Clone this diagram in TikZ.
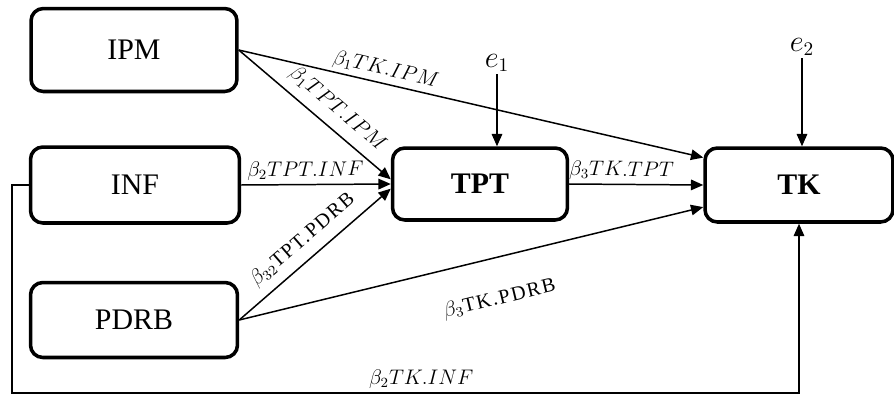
\documentclass[tikz,border=0pt]{standalone}
\usepackage{tikz}
\usetikzlibrary{arrows.meta, positioning}
\usepackage{amsmath}
\usepackage{fontspec}
\setmainfont{Liberation Serif}

\begin{document}
\begin{tikzpicture}[x=0.02cm, y=-0.02cm,
				->,
				>={Triangle[length=7pt, width=6pt]},
				line width=0.85pt,
				var/.style={draw, -, line width=2pt, rounded corners=7pt,
					font=\fontsize{17}{20}\selectfont},
				lbl/.style={font=\fontsize{11.5}{13}\selectfont, sloped, inner sep=2pt},
				err/.style={font=\fontsize{16}{18}\selectfont, inner sep=1pt}]

				\useasboundingbox (0,0) rectangle (894,396);

				% variables
				\node[var, minimum width=4.12cm, minimum height=1.66cm] (ipm) at (134,50) {IPM};
				\node[var, minimum width=4.18cm, minimum height=1.52cm] (inf) at (135,185) {INF};
				\node[var, minimum width=4.14cm, minimum height=1.50cm] (pdrb) at (134,320) {PDRB};
				\node[var, minimum width=3.50cm, minimum height=1.44cm, font=\fontsize{17}{20}\selectfont\bfseries] (tpt) at (480,184) {TPT};
				\node[var, minimum width=3.76cm, minimum height=1.48cm, font=\fontsize{17}{20}\selectfont\bfseries] (tk) at (799,185) {TK};

				% errors
				\node[err] (e1) at (497,63) {$e_1$};
				\node[err] (e2) at (802,47) {$e_2$};
				\coordinate (fb) at (12,393);

				\draw (e1.south) -- (e1.south |- tpt.north);
				\draw (e2.south) -- (e2.south |- tk.north);

				% paths
				\draw (ipm.east) -- node[lbl, above, pos=0.31] {$\beta_1TK.IPM$} (tk.164);
				\draw (ipm.east) -- node[lbl, above=3pt, pos=0.57] {$\beta_1TPT.IPM$} (tpt.177);
				\draw (inf.east) -- node[lbl, above, pos=0.43] {$\beta_2TPT.INF$} (tpt.west);
				\draw (pdrb.east) -- node[lbl, above=3pt, pos=0.5] {$\beta_{32}$\addfontfeature{LetterSpace=8}TPT.PDRB} (tpt.183);
				\draw (pdrb.east) -- node[lbl, below=0.55cm, pos=0.54] {$\beta_3$\addfontfeature{LetterSpace=8}TK.PDRB} (tk.193);
				\draw (tpt.east) -- node[lbl, above, pos=0.39] {$\beta_3TK.TPT$} (tk.west);
				\draw (inf.west) -| (fb) -| node[lbl, above, pos=0.26] {$\beta_2TK.INF$} (tk.south);
			\end{tikzpicture}
\end{document}
